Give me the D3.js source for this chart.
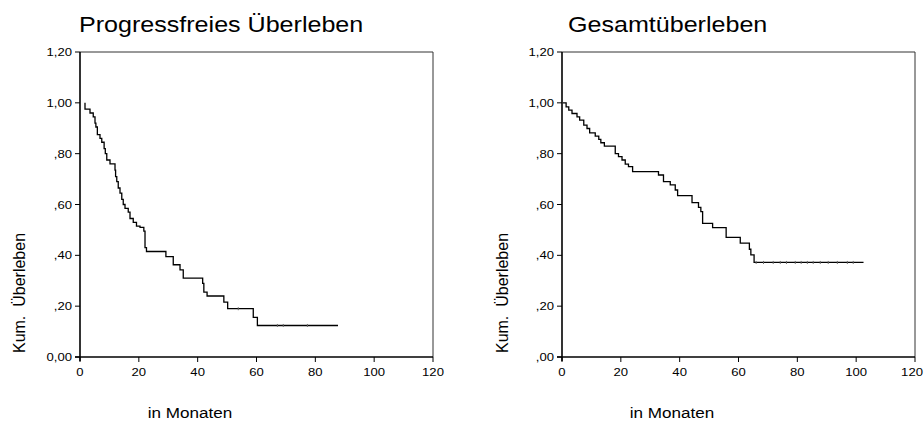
<!DOCTYPE html>
<html><head><meta charset="utf-8">
<script src="https://cdn.jsdelivr.net/npm/d3@7"></script>
<style>
html,body{margin:0;padding:0;background:#fff;}
svg{display:block;font-family:"Liberation Sans",Arial,sans-serif;}
</style></head>
<body><svg id="c" width="924" height="421"></svg>
<script>
// ---- data ----
const xTicks = [0, 20, 40, 60, 80, 100, 120];
const yTicks = [0, 0.2, 0.4, 0.6, 0.8, 1.0, 1.2];
const yTickLabelsLeft  = ["0,00", ",20", ",40", ",60", ",80", "1,00", "1,20"];
const yTickLabelsRight = [",00", ",20", ",40", ",60", ",80", "1,00", "1,20"];

// Progressfreies Überleben (start time, then event times and survival after each step)
const pfsStart = 1.7, pfsEnd = 87.7;
const pfsTimes = [1.7, 3.4, 4.5, 5.1, 5.4, 5.9, 6.8, 7.4, 8.2, 8.6, 9.1, 10.2, 11.9, 12.1, 12.5, 13.0, 13.6, 14.2, 14.7, 15.3, 16.4, 17.0, 18.1, 19.2, 20.4, 21.7, 22.1, 22.6, 29.2, 31.7, 34.0, 35.1, 41.7, 42.1, 43.2, 48.9, 50.2, 58.9, 60.3];
const pfsSurv  = [0.975, 0.96, 0.945, 0.92, 0.905, 0.875, 0.86, 0.845, 0.82, 0.80, 0.775, 0.76, 0.735, 0.71, 0.69, 0.665, 0.645, 0.62, 0.60, 0.585, 0.57, 0.545, 0.53, 0.515, 0.51, 0.495, 0.43, 0.415, 0.395, 0.363, 0.343, 0.31, 0.29, 0.255, 0.24, 0.216, 0.19, 0.156, 0.124];
const pfsCensor = [53.8, 67.1, 69.1, 77.3];

// Gesamtüberleben
const osStart = 0.3, osEnd = 102.5;
const osTimes = [1.4, 2.3, 3.4, 5.1, 6.0, 7.4, 8.5, 9.4, 11.3, 12.5, 13.2, 14.4, 18.1, 19.2, 20.4, 21.5, 22.6, 24.0, 32.8, 34.5, 36.8, 38.5, 39.3, 44.2, 46.4, 47.2, 47.8, 51.2, 55.8, 60.6, 63.7, 64.2, 65.3];
const osSurv  = [0.984, 0.971, 0.958, 0.945, 0.932, 0.912, 0.899, 0.882, 0.869, 0.856, 0.843, 0.83, 0.80, 0.788, 0.775, 0.759, 0.749, 0.729, 0.716, 0.690, 0.677, 0.657, 0.635, 0.607, 0.589, 0.572, 0.526, 0.509, 0.471, 0.448, 0.424, 0.402, 0.372];
const osCensor = [66, 68.5, 71.8, 74.2, 76.3, 79.3, 81.3, 83.4, 85.4, 87.8, 90.5, 93.6, 97, 99];

// ---- drawing ----
const svg = d3.select("#c");
const SX = 1.14; // horizontal text stretch
const W = 924;

function stext(parent, x, y, str, size, anchor, rot) {
  const g = parent.append("g").attr("transform",
    `translate(${x},${y})` + (rot ? ` rotate(${rot})` : ` scale(${SX},1)`));
  const t = g.append("text").attr("x", 0).attr("y", 0)
    .attr("font-size", size).attr("text-anchor", anchor).attr("fill", "#000").text(str);
  return {g, t};
}

function panel(cfg) {
  const x = d3.scaleLinear().domain([0, 120]).range([cfg.x0, cfg.x1]);
  const y = d3.scaleLinear().domain([0, 1.2]).range([357, 52]);
  const g = svg.append("g");

  // frame (top + right thin)
  g.append("line").attr("x1", x(0)).attr("x2", x(120)).attr("y1", y(1.2)).attr("y2", y(1.2))
    .attr("stroke", "#333").attr("stroke-width", 1);
  g.append("line").attr("x1", x(120)).attr("x2", x(120)).attr("y1", y(1.2)).attr("y2", y(0))
    .attr("stroke", "#333").attr("stroke-width", 1);

  // y axis
  const ya = g.append("g");
  ya.append("line").attr("x1", x(0)).attr("x2", x(0)).attr("y1", y(1.2)).attr("y2", y(0) + 4)
    .attr("stroke", "#000").attr("stroke-width", 1.6);
  yTicks.forEach((t, i) => {
    ya.append("line").attr("x1", x(0) - 5).attr("x2", x(0)).attr("y1", y(t)).attr("y2", y(t))
      .attr("stroke", "#000").attr("stroke-width", 1);
    stext(ya, x(0) - 8, y(t) + 4, cfg.yLabels[i], 11.5, "end");
  });
  // x axis
  const xa = g.append("g");
  xa.append("line").attr("x1", x(0) - 5).attr("x2", x(120)).attr("y1", y(0)).attr("y2", y(0))
    .attr("stroke", "#000").attr("stroke-width", 1.6);
  xTicks.forEach(t => {
    xa.append("line").attr("x1", x(t)).attr("x2", x(t)).attr("y1", y(0)).attr("y2", y(0) + 5)
      .attr("stroke", "#000").attr("stroke-width", 1);
    const lab = stext(xa, x(t), 376, String(t), 11.5, "middle");
    const w = lab.t.node().getComputedTextLength() * SX;
    if (x(t) + w / 2 > W - 1) {
      lab.g.attr("transform", `translate(${W - 1},376) scale(${SX},1)`);
      lab.t.attr("text-anchor", "end");
    }
  });

  // step curve
  const pts = [[cfg.start, 1.0]];
  cfg.times.forEach((t, i) => pts.push([t, cfg.surv[i]]));
  pts.push([cfg.end, cfg.surv[cfg.surv.length - 1]]);
  const line = d3.line().x(d => x(d[0])).y(d => y(d[1])).curve(d3.curveStepAfter);
  g.append("path").attr("d", line(pts)).attr("fill", "none")
    .attr("stroke", "#000").attr("stroke-width", 1.3);

  // censor marks
  const sAt = t => { let s = 1; cfg.times.forEach((tt, i) => { if (tt <= t) s = cfg.surv[i]; }); return s; };
  cfg.censor.forEach(t => {
    g.append("line").attr("x1", x(t)).attr("x2", x(t)).attr("y1", y(sAt(t)) - 1.5).attr("y2", y(sAt(t)) + 1.5)
      .attr("stroke", "#666").attr("stroke-width", 1);
  });

  // titles & labels
  stext(g, cfg.titleX, 32, cfg.title, 22, "start");
  stext(g, cfg.ylabX, 293, "Kum.\u00a0\u00a0Überleben", 16, "middle", -90);
  stext(g, cfg.xlabX, 418, "in Monaten", 15, "middle");
}

panel({x0: 80, x1: 433, start: pfsStart, end: pfsEnd, times: pfsTimes, surv: pfsSurv, censor: pfsCensor,
  yLabels: yTickLabelsLeft, title: "Progressfreies Überleben", titleX: 79, ylabX: 25, xlabX: 190});
panel({x0: 562, x1: 915, start: osStart, end: osEnd, times: osTimes, surv: osSurv, censor: osCensor,
  yLabels: yTickLabelsRight, title: "Gesamtüberleben", titleX: 568, ylabX: 508, xlabX: 672});
</script></body></html>
